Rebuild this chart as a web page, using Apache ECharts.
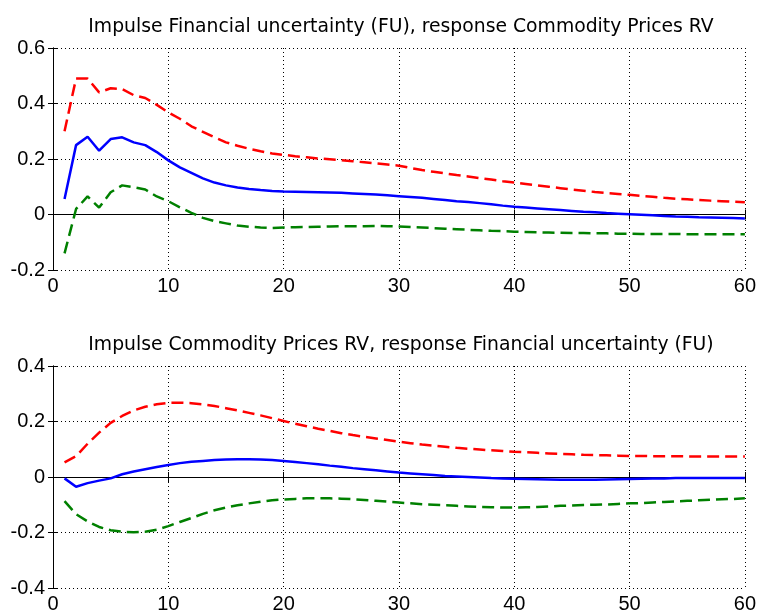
<!DOCTYPE html>
<html>
<head>
<meta charset="utf-8">
<script src="https://cdn.jsdelivr.net/npm/echarts@6/dist/echarts.min.js"></script>
<style>
  html, body { margin: 0; padding: 0; background: #fff; }
  #chart { width: 759px; height: 615px; }
</style>
</head>
<body>
<div id="chart"></div>
<script>
// horizons (x values)
const horizons = [1, 2, 3, 4, 5, 6, 7, 8, 9, 10, 11, 12, 13, 14, 15, 16, 17, 18, 19, 20,
  21, 22, 23, 24, 25, 26, 27, 28, 29, 30, 31, 32, 33, 34, 35, 36, 37, 38, 39, 40,
  41, 42, 43, 44, 45, 46, 47, 48, 49, 50, 51, 52, 53, 54, 55, 56, 57, 58, 59, 60];

const titles = [
  'Impulse Financial uncertainty (FU), response Commodity Prices RV',
  'Impulse Commodity Prices RV, response Financial uncertainty (FU)'
];

// panel 1: FU -> Commodity Prices RV
const fuToCpMid = [0.056, 0.25, 0.28, 0.23, 0.272, 0.278, 0.26, 0.25, 0.225, 0.195,
  0.17, 0.15, 0.13, 0.115, 0.105, 0.097, 0.092, 0.088, 0.085, 0.083,
  0.082, 0.081, 0.08, 0.079, 0.078, 0.076, 0.074, 0.072, 0.069, 0.066,
  0.063, 0.06, 0.056, 0.052, 0.048, 0.045, 0.041, 0.037, 0.032, 0.028,
  0.025, 0.022, 0.019, 0.016, 0.013, 0.01, 0.008, 0.005, 0.003, 0.001,
  -0.001, -0.003, -0.005, -0.007, -0.008, -0.01, -0.011, -0.012, -0.013, -0.014];
const fuToCpUp = [0.30, 0.49, 0.49, 0.44, 0.455, 0.452, 0.43, 0.42, 0.395, 0.368,
  0.345, 0.318, 0.298, 0.278, 0.26, 0.248, 0.237, 0.228, 0.22, 0.215,
  0.21, 0.206, 0.202, 0.199, 0.196, 0.192, 0.188, 0.184, 0.18, 0.176,
  0.168, 0.16, 0.154, 0.148, 0.142, 0.137, 0.131, 0.126, 0.12, 0.115,
  0.11, 0.105, 0.1, 0.095, 0.09, 0.086, 0.081, 0.077, 0.074, 0.071,
  0.067, 0.064, 0.06, 0.057, 0.055, 0.052, 0.05, 0.048, 0.046, 0.044];
const fuToCpLo = [-0.14, 0.02, 0.065, 0.025, 0.08, 0.105, 0.098, 0.09, 0.065, 0.048,
  0.026, 0.006, -0.012, -0.024, -0.032, -0.04, -0.044, -0.047, -0.049, -0.047,
  -0.046, -0.045, -0.044, -0.043, -0.042, -0.042, -0.042, -0.041, -0.042, -0.043,
  -0.045, -0.047, -0.049, -0.051, -0.053, -0.055, -0.057, -0.059, -0.06, -0.062,
  -0.063, -0.064, -0.065, -0.066, -0.067, -0.067, -0.068, -0.068, -0.069, -0.069,
  -0.07, -0.07, -0.07, -0.07, -0.071, -0.071, -0.071, -0.071, -0.071, -0.071];

// panel 2: Commodity Prices RV -> FU
const cpToFuMid = [-0.005, -0.035, -0.022, -0.013, -0.005, 0.01, 0.02, 0.028, 0.036, 0.043,
  0.05, 0.055, 0.058, 0.061, 0.063, 0.064, 0.064, 0.063, 0.061, 0.058,
  0.054, 0.05, 0.046, 0.041, 0.037, 0.032, 0.028, 0.024, 0.02, 0.016,
  0.013, 0.01, 0.007, 0.004, 0.002, 0.0, -0.002, -0.004, -0.005, -0.006,
  -0.007, -0.008, -0.009, -0.01, -0.01, -0.01, -0.01, -0.009, -0.008, -0.007,
  -0.006, -0.005, -0.005, -0.004, -0.004, -0.004, -0.004, -0.004, -0.004, -0.004];
const cpToFuUp = [0.053, 0.075, 0.12, 0.16, 0.195, 0.22, 0.24, 0.253, 0.262, 0.267,
  0.268, 0.266, 0.262, 0.256, 0.248, 0.24, 0.231, 0.222, 0.212, 0.202,
  0.192, 0.183, 0.174, 0.166, 0.158, 0.151, 0.145, 0.139, 0.133, 0.127,
  0.122, 0.117, 0.113, 0.109, 0.105, 0.102, 0.099, 0.096, 0.094, 0.091,
  0.089, 0.087, 0.085, 0.083, 0.082, 0.08, 0.079, 0.078, 0.077, 0.076,
  0.076, 0.075, 0.075, 0.075, 0.074, 0.074, 0.074, 0.074, 0.074, 0.074];
const cpToFuLo = [-0.087, -0.134, -0.16, -0.18, -0.192, -0.197, -0.199, -0.197, -0.19, -0.177,
  -0.162, -0.148, -0.133, -0.12, -0.11, -0.102, -0.095, -0.089, -0.084, -0.081,
  -0.079, -0.077, -0.077, -0.077, -0.078, -0.08, -0.083, -0.086, -0.089, -0.092,
  -0.095, -0.098, -0.1, -0.102, -0.104, -0.106, -0.108, -0.109, -0.11, -0.11,
  -0.109, -0.108, -0.106, -0.104, -0.103, -0.101, -0.1, -0.099, -0.097, -0.095,
  -0.094, -0.092, -0.09, -0.088, -0.086, -0.084, -0.082, -0.08, -0.079, -0.077];

const yRanges = [[-0.2, 0.6], [-0.4, 0.4]];

const font = '"Liberation Sans", Arial, sans-serif';
const titleFont = '"DejaVu Sans", sans-serif';
const chart = echarts.init(document.getElementById('chart'));

const pairs = (vals) => vals.map((v, i) => [horizons[i], v]);

const grids = [
  { left: 53, top: 48, width: 695, height: 222 },
  { left: 53, top: 366, width: 695, height: 222 }
];

const xAxes = [];
const yAxes = [];
grids.forEach((g, i) => {
  // bottom x axis with labels and dotted grid
  xAxes.push({
    gridIndex: i, type: 'value', min: 0, max: 60, interval: 10,
    axisLine: { lineStyle: { color: '#000', width: 1 } },
    axisTick: { inside: true, length: 5, lineStyle: { color: '#000' } },
    axisLabel: { color: '#000', fontSize: 20, fontFamily: font, margin: 6 },
    splitLine: { show: true, lineStyle: { color: '#000', type: [1, 3], width: 1 } }
  });
  // top x axis: frame + ticks only
  xAxes.push({
    gridIndex: i, type: 'value', min: 0, max: 60, interval: 10, position: 'top',
    axisLine: { lineStyle: { color: '#000', width: 1 } },
    axisTick: { inside: true, length: 5, lineStyle: { color: '#000' } },
    axisLabel: { show: false },
    splitLine: { show: false }
  });
  yAxes.push({
    gridIndex: i, type: 'value', min: yRanges[i][0], max: yRanges[i][1], interval: 0.2,
    axisLine: { show: true, lineStyle: { color: '#000', width: 1 } },
    axisTick: { show: true, inside: true, length: 5, lineStyle: { color: '#000' } },
    axisLabel: { color: '#000', fontSize: 20, fontFamily: font, margin: 8,
      formatter: (v) => String(+v.toFixed(1)) },
    splitLine: { show: true, lineStyle: { color: '#000', type: [1, 3], width: 1 } }
  });
  yAxes.push({
    gridIndex: i, type: 'value', min: yRanges[i][0], max: yRanges[i][1], interval: 0.2,
    position: 'right',
    axisLine: { show: true, lineStyle: { color: '#000', width: 1 } },
    axisTick: { show: true, inside: true, length: 5, lineStyle: { color: '#000' } },
    axisLabel: { show: false },
    splitLine: { show: false }
  });
});

const line = (idx, vals, color, dashed) => ({
  type: 'line',
  xAxisIndex: idx * 2,
  yAxisIndex: idx * 2,
  data: pairs(vals),
  symbol: 'none',
  silent: true,
  z: dashed ? 2 : 3,
  lineStyle: { color: color, width: 2.5, type: dashed ? [12, 6] : 'solid' }
});

// titles centred over the plot area, not the page
const titleStyle = { fontSize: 18.8, fontWeight: 'normal', color: '#000', fontFamily: titleFont };

chart.setOption({
  backgroundColor: '#fff',
  animation: false,
  title: [
    { text: titles[0], left: 396, textAlign: 'center', top: 13, textStyle: titleStyle },
    { text: titles[1], left: 396, textAlign: 'center', top: 331, textStyle: titleStyle }
  ],
  grid: grids,
  xAxis: xAxes,
  yAxis: yAxes,
  series: [
    line(0, fuToCpUp, '#ff0000', true),
    line(0, fuToCpLo, '#008000', true),
    line(0, fuToCpMid, '#0000ff', false),
    line(1, cpToFuUp, '#ff0000', true),
    line(1, cpToFuLo, '#008000', true),
    line(1, cpToFuMid, '#0000ff', false)
  ]
});
</script>
</body>
</html>
